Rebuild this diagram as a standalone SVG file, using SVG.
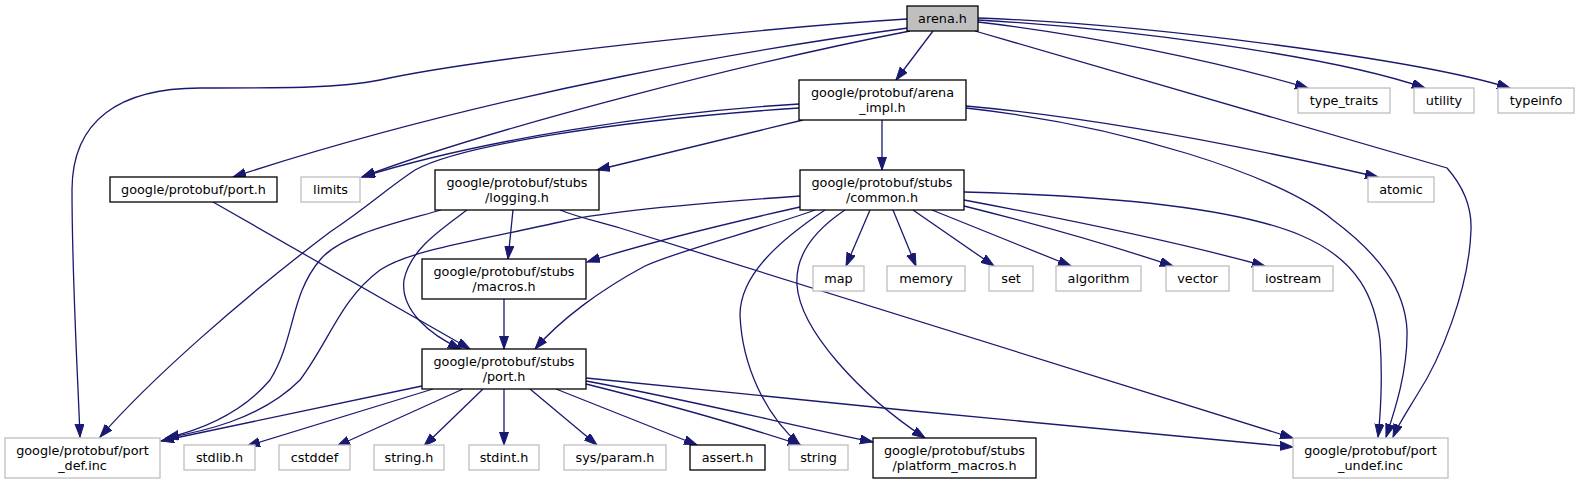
<svg xmlns="http://www.w3.org/2000/svg" width="1579" height="484" viewBox="0 0 1579 484">
<style>
.b{fill:#fff;stroke:#000;stroke-width:1.3}
.g{fill:#fff;stroke:#bfbfbf;stroke-width:1.3}
.r{fill:#bfbfbf;stroke:#000;stroke-width:1.3}
text{font-family:"DejaVu Sans","Liberation Sans",sans-serif;font-size:12.8px;fill:#000;text-anchor:middle}
.e path{fill:none;stroke:#191970;stroke-width:1.3;marker-end:url(#a)}
</style>
<defs>
<marker id="a" markerUnits="userSpaceOnUse" markerWidth="14" markerHeight="10" refX="13" refY="4.5" orient="auto">
<path d="M0,0 L13,4.5 L0,9 z" fill="#191970" stroke="#191970" stroke-width="1"/>
</marker>
</defs>
<rect width="1579" height="484" fill="#fff"/>
<g class="e" id="edges">
<path d="M907,19 C760,28 480,58 380,80 C340,88 290,88 200,88 C120,88 72,120 72,190 C72,280 78,380 80,437"/>
<path d="M908,28 C780,45 500,90 233,177"/>
<path d="M910,31 C760,60 500,125 362,177"/>
<path d="M933,31 L896,80"/>
<path d="M978,22 C1090,35 1220,62 1308,88"/>
<path d="M978,20 C1120,28 1330,55 1425,88"/>
<path d="M978,18 C1150,24 1420,60 1510,88"/>
<path d="M975,31 L1447,168 C1462,185 1472,205 1471,230 C1469,290 1440,360 1417,395 C1408,410 1398,425 1393,437"/>
<path d="M882,120 L882,170"/>
<path d="M799,104 C660,112 480,140 362,177"/>
<path d="M799,108 C620,120 460,145 415,170 C385,190 370,205 330,232 C240,300 150,380 100,437"/>
<path d="M803,120 L597,170"/>
<path d="M966,106 C1100,118 1260,150 1378,177"/>
<path d="M966,108 C1120,125 1280,175 1333,220 C1380,255 1405,290 1407,330 C1408,370 1395,410 1386,437"/>
<path d="M964,192 C1120,196 1240,210 1300,235 C1360,260 1375,300 1380,340 C1383,380 1380,420 1378,437"/>
<path d="M870,210 L846,266"/>
<path d="M893,210 L916,266"/>
<path d="M913,210 L994,266"/>
<path d="M932,210 L1071,266"/>
<path d="M964,206 C1040,225 1110,245 1173,266"/>
<path d="M964,200 C1060,218 1170,240 1265,266"/>
<path d="M800,207 C720,225 640,245 587,262"/>
<path d="M815,210 C760,230 680,250 645,266 C600,290 560,320 535,349"/>
<path d="M800,196 C700,203 600,212 560,222 C480,240 410,250 380,270 C340,300 330,340 300,380 C260,420 200,432 166,438"/>
<path d="M825,210 C780,240 740,275 740,315 C742,365 765,415 800,445"/>
<path d="M845,210 C815,230 795,255 797,285 C800,330 860,395 925,438"/>
<path d="M513,210 L508,259"/>
<path d="M467,210 C440,230 410,250 404,280 C400,310 430,335 461,349"/>
<path d="M441,210 C400,222 340,235 320,260 C290,295 295,340 270,380 C240,415 200,430 166,438"/>
<path d="M560,210 C580,218 600,222 620,228 C900,315 1150,395 1293,438"/>
<path d="M213,202 L470,349"/>
<path d="M504,299 L504,349"/>
<path d="M422,386 L161,441"/>
<path d="M433,389 L247,446"/>
<path d="M463,389 L337,446"/>
<path d="M483,389 L424,446"/>
<path d="M504,389 L504,445"/>
<path d="M530,389 L597,445"/>
<path d="M556,389 L697,445"/>
<path d="M586,384 C650,400 740,425 801,445"/>
<path d="M586,381 C690,400 790,425 873,442"/>
<path d="M586,378 C800,400 1100,430 1293,447"/>
</g>
<g id="n_arena"><rect class="r" x="907" y="6" width="71" height="25"/><text x="942.5" y="22.5">arena.h</text></g>
<g id="n_arena_impl"><rect class="b" x="799" y="80" width="167" height="40"/><text x="882.5" y="96.5">google/protobuf/arena</text><text x="882.5" y="111.5">_impl.h</text></g>
<g id="n_type_traits"><rect class="g" x="1298" y="88" width="92" height="25"/><text x="1344" y="104.5">type_traits</text></g>
<g id="n_utility"><rect class="g" x="1414" y="88" width="60" height="25"/><text x="1444" y="104.5">utility</text></g>
<g id="n_typeinfo"><rect class="g" x="1498" y="88" width="76" height="25"/><text x="1536" y="104.5">typeinfo</text></g>
<g id="n_port"><rect class="b" x="110" y="177" width="167" height="25"/><text x="193.5" y="193.5">google/protobuf/port.h</text></g>
<g id="n_limits"><rect class="g" x="301" y="177" width="59" height="25"/><text x="330.5" y="193.5">limits</text></g>
<g id="n_logging"><rect class="b" x="435" y="170" width="164" height="40"/><text x="517" y="186.5">google/protobuf/stubs</text><text x="517" y="201.5">/logging.h</text></g>
<g id="n_common"><rect class="b" x="800" y="170" width="164" height="40"/><text x="882" y="186.5">google/protobuf/stubs</text><text x="882" y="201.5">/common.h</text></g>
<g id="n_atomic"><rect class="g" x="1368" y="177" width="66" height="25"/><text x="1401" y="193.5">atomic</text></g>
<g id="n_macros"><rect class="b" x="422" y="259" width="164" height="40"/><text x="504" y="275.5">google/protobuf/stubs</text><text x="504" y="290.5">/macros.h</text></g>
<g id="n_map"><rect class="g" x="813" y="266" width="51" height="25"/><text x="838.5" y="282.5">map</text></g>
<g id="n_memory"><rect class="g" x="887" y="266" width="78" height="25"/><text x="926" y="282.5">memory</text></g>
<g id="n_set"><rect class="g" x="989" y="266" width="44" height="25"/><text x="1011" y="282.5">set</text></g>
<g id="n_algorithm"><rect class="g" x="1056" y="266" width="85" height="25"/><text x="1098.5" y="282.5">algorithm</text></g>
<g id="n_vector"><rect class="g" x="1166" y="266" width="63" height="25"/><text x="1197.5" y="282.5">vector</text></g>
<g id="n_iostream"><rect class="g" x="1253" y="266" width="80" height="25"/><text x="1293" y="282.5">iostream</text></g>
<g id="n_stubs_port"><rect class="b" x="422" y="349" width="164" height="40"/><text x="504" y="365.5">google/protobuf/stubs</text><text x="504" y="380.5">/port.h</text></g>
<g id="n_port_def"><rect class="g" x="5" y="438" width="155" height="40"/><text x="82.5" y="454.5">google/protobuf/port</text><text x="82.5" y="469.5">_def.inc</text></g>
<g id="n_stdlib"><rect class="g" x="184" y="445" width="71" height="25"/><text x="219.5" y="461.5">stdlib.h</text></g>
<g id="n_cstddef"><rect class="g" x="279" y="445" width="71" height="25"/><text x="314.5" y="461.5">cstddef</text></g>
<g id="n_string_h"><rect class="g" x="374" y="445" width="70" height="25"/><text x="409" y="461.5">string.h</text></g>
<g id="n_stdint"><rect class="g" x="469" y="445" width="70" height="25"/><text x="504" y="461.5">stdint.h</text></g>
<g id="n_sys_param"><rect class="g" x="564" y="445" width="102" height="25"/><text x="615" y="461.5">sys/param.h</text></g>
<g id="n_assert"><rect class="b" x="690" y="445" width="75" height="25"/><text x="727.5" y="461.5">assert.h</text></g>
<g id="n_string"><rect class="g" x="789" y="445" width="59" height="25"/><text x="818.5" y="461.5">string</text></g>
<g id="n_platform_macros"><rect class="b" x="873" y="438" width="163" height="40"/><text x="954.5" y="454.5">google/protobuf/stubs</text><text x="954.5" y="469.5">/platform_macros.h</text></g>
<g id="n_port_undef"><rect class="g" x="1293" y="438" width="155" height="40"/><text x="1370.5" y="454.5">google/protobuf/port</text><text x="1370.5" y="469.5">_undef.inc</text></g>
</svg>
